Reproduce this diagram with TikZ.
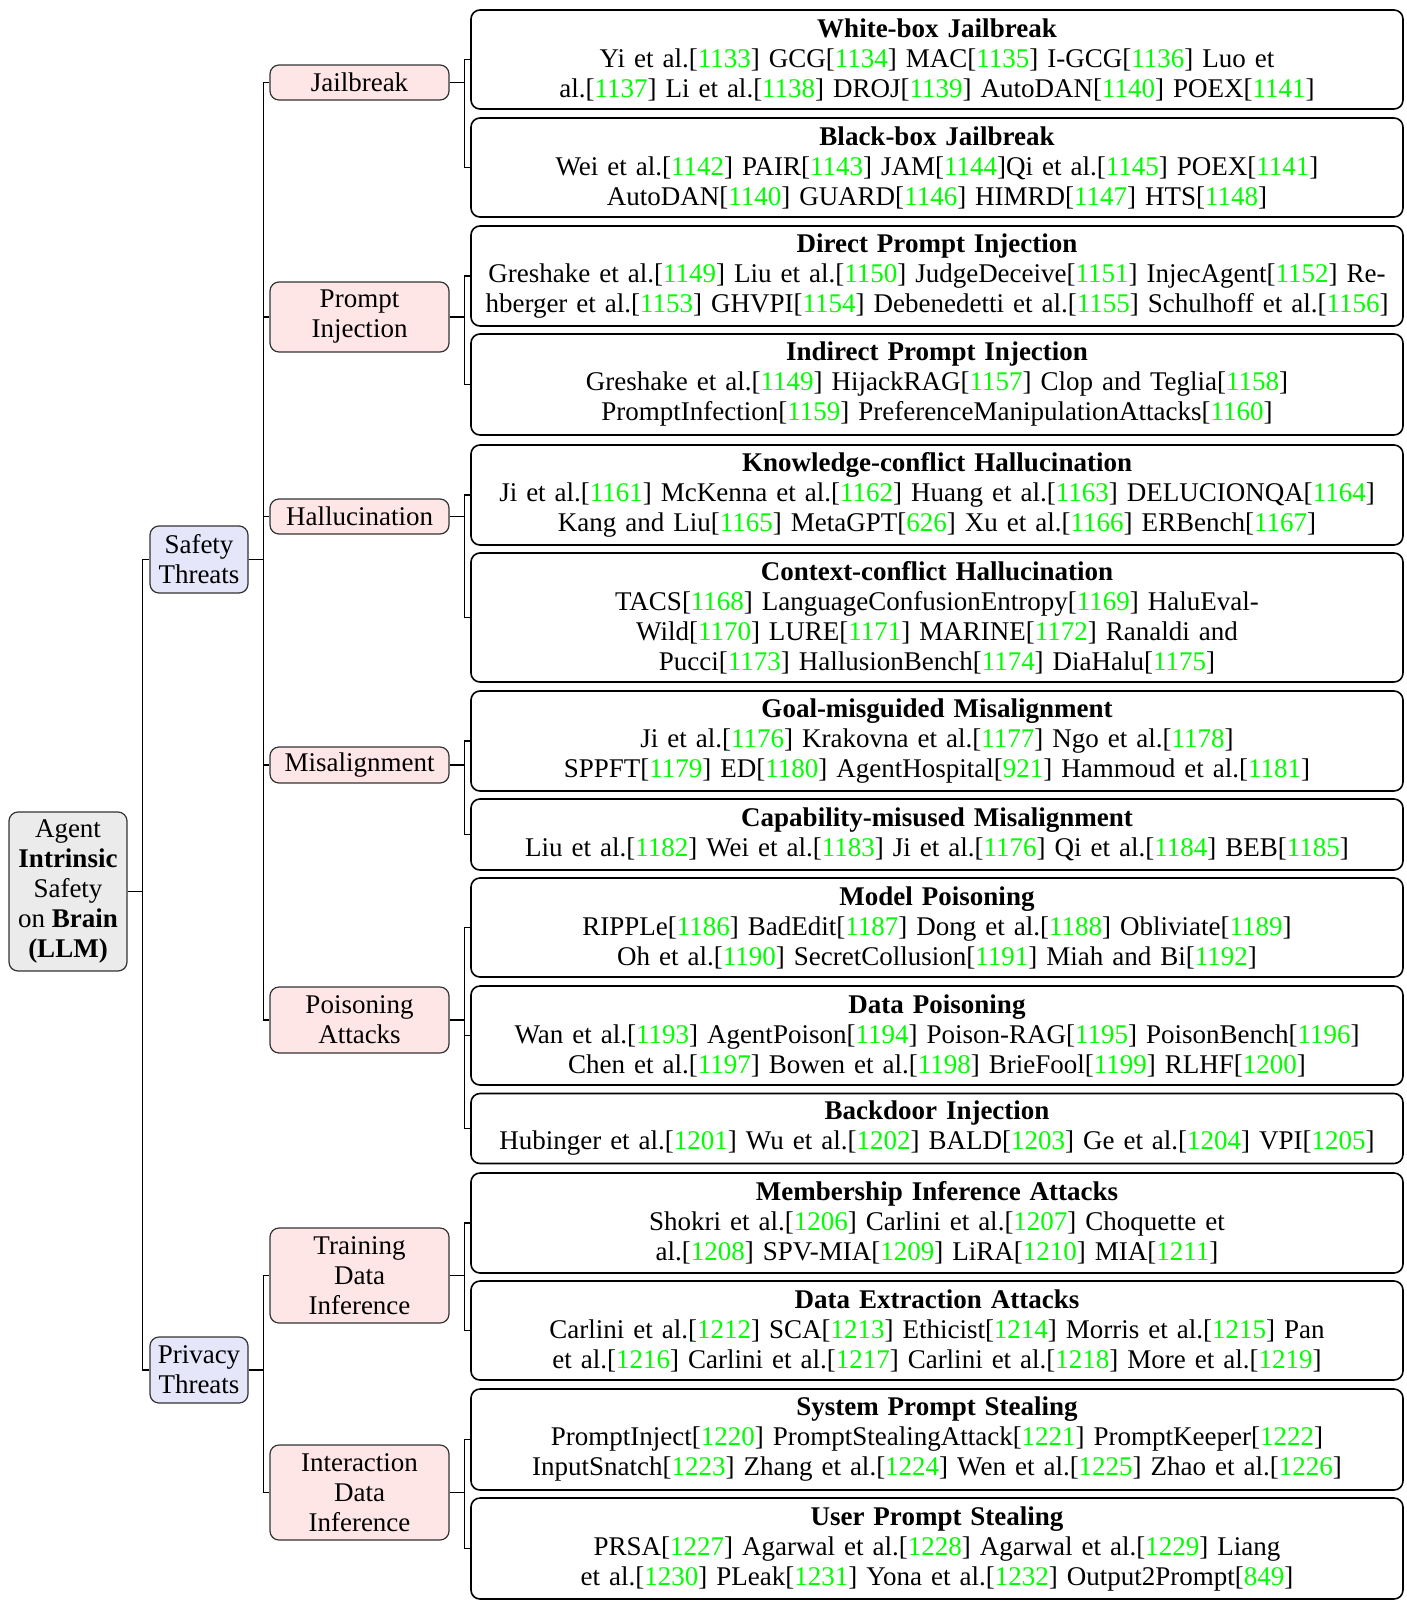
\documentclass[tikz,border=0pt]{standalone}
\usepackage{fontspec}
\setmainfont{Liberation Serif}
\definecolor{citegreen}{RGB}{0,255,0}
\definecolor{rootfill}{RGB}{235,235,235}
\definecolor{lvlonefill}{RGB}{230,230,250}
\definecolor{lvltwofill}{RGB}{255,230,230}
\newcommand{\rf}[1]{[\textcolor{citegreen}{#1}]}
\begin{document}
\begin{tikzpicture}[x=1pt,y=-1pt,
  base/.style={rounded corners=9pt, font=\fontsize{27}{30}\selectfont, inner sep=0pt, align=center},
  rootbox/.style={base, draw=black!80, line width=1.2pt, fill=rootfill, minimum width=118pt},
  catbox/.style={base, draw=black!80, line width=1.2pt, fill=lvlonefill, minimum width=98pt},
  subbox/.style={base, draw=black!80, line width=1.2pt, fill=lvltwofill, minimum width=179pt},
  leafbox/.style={base, draw=black, line width=1.6pt, fill=white, text width=912pt, minimum width=932pt},
  conn/.style={draw=black, line width=1.3pt},
]
\fill[white] (0,0) rectangle (1407,1617);
\useasboundingbox (0,0) rectangle (1407,1617);

% root
\node[rootbox, minimum height=159pt] (root) at (68,891.5)
  {Agent\\\textbf{Intrinsic}\\Safety\\on \textbf{Brain}\\\textbf{(LLM)}};

% level 1
\node[catbox, minimum height=67pt] (safety) at (199,559.5) {Safety\\Threats};
\node[catbox, minimum height=66pt] (privacy) at (199,1370) {Privacy\\Threats};

% level 2
\node[subbox, minimum height=35pt] (jail) at (359.5,82.5) {Jailbreak};
\node[subbox, minimum height=70pt] (pinj) at (359.5,317) {Prompt\\Injection};
\node[subbox, minimum height=35pt] (hall) at (359.5,516.5) {Hallucination};
\node[subbox, minimum height=36pt] (misa) at (359.5,765) {Misalignment};
\node[subbox, minimum height=66pt] (pois) at (359.5,1020) {Poisoning\\Attacks};
\node[subbox, minimum height=95pt] (tdi) at (359.5,1275.5) {Training\\Data\\Inference};
\node[subbox, minimum height=95pt] (idi) at (359.5,1492.5) {Interaction\\Data\\Inference};

% leaves
\node[leafbox, minimum height=99pt] (l1) at (937,59.5)
  {\textbf{White-box Jailbreak}\\
   Yi et al.\rf{1133} GCG\rf{1134} MAC\rf{1135} I-GCG\rf{1136} Luo et\\
   al.\rf{1137} Li et al.\rf{1138} DROJ\rf{1139} AutoDAN\rf{1140} POEX\rf{1141}};
\node[leafbox, minimum height=99pt] (l2) at (937,167.5)
  {\textbf{Black-box Jailbreak}\\
   Wei et al.\rf{1142} PAIR\rf{1143} JAM\rf{1144}Qi et al.\rf{1145} POEX\rf{1141}\\
   AutoDAN\rf{1140} GUARD\rf{1146} HIMRD\rf{1147} HTS\rf{1148}};
\node[leafbox, minimum height=100pt] (l3) at (937,276)
  {\textbf{Direct Prompt Injection}\\
   Greshake et al.\rf{1149} Liu et al.\rf{1150} JudgeDeceive\rf{1151} InjecAgent\rf{1152} Re-\\
   hberger et al.\rf{1153} GHVPI\rf{1154} Debenedetti et al.\rf{1155} Schulhoff et al.\rf{1156}};
\node[leafbox, minimum height=101pt] (l4) at (937,384.5)
  {\textbf{Indirect Prompt Injection}\\
   Greshake et al.\rf{1149} HijackRAG\rf{1157} Clop and Teglia\rf{1158}\\
   PromptInfection\rf{1159} PreferenceManipulationAttacks\rf{1160}};
\node[leafbox, minimum height=100pt] (l5) at (937,495)
  {\textbf{Knowledge-conflict Hallucination}\\
   Ji et al.\rf{1161} McKenna et al.\rf{1162} Huang et al.\rf{1163} DELUCIONQA\rf{1164}\\
   Kang and Liu\rf{1165} MetaGPT\rf{626} Xu et al.\rf{1166} ERBench\rf{1167}};
\node[leafbox, minimum height=129pt] (l6) at (937,617.5)
  {\textbf{Context-conflict Hallucination}\\
   TACS\rf{1168} LanguageConfusionEntropy\rf{1169} HaluEval-\\
   Wild\rf{1170} LURE\rf{1171} MARINE\rf{1172} Ranaldi and\\
   Pucci\rf{1173} HallusionBench\rf{1174} DiaHalu\rf{1175}};
\node[leafbox, minimum height=100pt] (l7) at (937,741)
  {\textbf{Goal-misguided Misalignment}\\
   Ji et al.\rf{1176} Krakovna et al.\rf{1177} Ngo et al.\rf{1178}\\
   SPPFT\rf{1179} ED\rf{1180} AgentHospital\rf{921} Hammoud et al.\rf{1181}};
\node[leafbox, minimum height=71pt] (l8) at (937,834.5)
  {\textbf{Capability-misused Misalignment}\\
   Liu et al.\rf{1182} Wei et al.\rf{1183} Ji et al.\rf{1176} Qi et al.\rf{1184} BEB\rf{1185}};
\node[leafbox, minimum height=99pt] (l9) at (937,927.5)
  {\textbf{Model Poisoning}\\
   RIPPLe\rf{1186} BadEdit\rf{1187} Dong et al.\rf{1188} Obliviate\rf{1189}\\
   Oh et al.\rf{1190} SecretCollusion\rf{1191} Miah and Bi\rf{1192}};
\node[leafbox, minimum height=99pt] (l10) at (937,1035.5)
  {\textbf{Data Poisoning}\\
   Wan et al.\rf{1193} AgentPoison\rf{1194} Poison-RAG\rf{1195} PoisonBench\rf{1196}\\
   Chen et al.\rf{1197} Bowen et al.\rf{1198} BrieFool\rf{1199} RLHF\rf{1200}};
\node[leafbox, minimum height=70pt] (l11) at (937,1128.5)
  {\textbf{Backdoor Injection}\\
   Hubinger et al.\rf{1201} Wu et al.\rf{1202} BALD\rf{1203} Ge et al.\rf{1204} VPI\rf{1205}};
\node[leafbox, minimum height=100pt] (l12) at (937,1223)
  {\textbf{Membership Inference Attacks}\\
   Shokri et al.\rf{1206} Carlini et al.\rf{1207} Choquette et\\
   al.\rf{1208} SPV-MIA\rf{1209} LiRA\rf{1210} MIA\rf{1211}};
\node[leafbox, minimum height=99pt] (l13) at (937,1330.5)
  {\textbf{Data Extraction Attacks}\\
   Carlini et al.\rf{1212} SCA\rf{1213} Ethicist\rf{1214} Morris et al.\rf{1215} Pan\\
   et al.\rf{1216} Carlini et al.\rf{1217} Carlini et al.\rf{1218} More et al.\rf{1219}};
\node[leafbox, minimum height=101pt] (l14) at (937,1439.5)
  {\textbf{System Prompt Stealing}\\
   PromptInject\rf{1220} PromptStealingAttack\rf{1221} PromptKeeper\rf{1222}\\
   InputSnatch\rf{1223} Zhang et al.\rf{1224} Wen et al.\rf{1225} Zhao et al.\rf{1226}};
\node[leafbox, minimum height=101pt] (l15) at (937,1548.5)
  {\textbf{User Prompt Stealing}\\
   PRSA\rf{1227} Agarwal et al.\rf{1228} Agarwal et al.\rf{1229} Liang\\
   et al.\rf{1230} PLeak\rf{1231} Yona et al.\rf{1232} Output2Prompt\rf{849}};

% connectors
\foreach \p/\c in {root/safety, root/privacy,
  safety/jail, safety/pinj, safety/hall, safety/misa, safety/pois,
  privacy/tdi, privacy/idi,
  jail/l1, jail/l2, pinj/l3, pinj/l4, hall/l5, hall/l6, misa/l7, misa/l8,
  pois/l9, pois/l10, pois/l11, tdi/l12, tdi/l13, idi/l14, idi/l15}
  \draw[conn] (\p.east) -- ++(15,0) |- (\c.west);
\end{tikzpicture}
\end{document}
